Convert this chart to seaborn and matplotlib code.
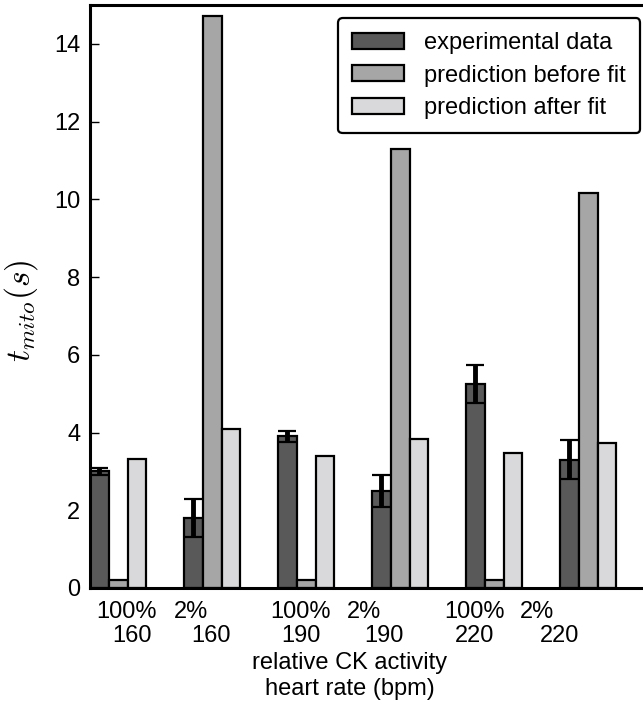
import numpy as np
import pandas as pd
import matplotlib
matplotlib.use("Agg")
import matplotlib.pyplot as plt
import seaborn as sns

# Conditions: relative CK activity and heart rate (bpm)
ck_activity = ["100%", "2%", "100%", "2%", "100%", "2%"]
heart_rate = ["160", "160", "190", "190", "220", "220"]

# Series
series = ["experimental data", "prediction before fit", "prediction after fit"]
experimental = [3.0, 1.8, 3.9, 2.5, 5.25, 3.3]
experimental_err = [0.08, 0.5, 0.15, 0.42, 0.5, 0.5]
before_fit = [0.2, 14.72, 0.2, 11.3, 0.2, 10.17]
after_fit = [3.31, 4.08, 3.39, 3.83, 3.47, 3.72]

yticks = [0, 2, 4, 6, 8, 10, 12, 14]

colors = ["#595959", "#a6a6a6", "#d9d9db"]

sns.set_theme(style="ticks")
plt.rcParams["font.family"] = ["Liberation Sans", "DejaVu Sans"]
plt.rcParams["mathtext.fontset"] = "cm"
plt.rcParams["text.color"] = "black"
plt.rcParams["axes.labelcolor"] = "black"
plt.rcParams["xtick.color"] = "black"
plt.rcParams["ytick.color"] = "black"

conditions = [f"{c}\n{h}" for c, h in zip(ck_activity, heart_rate)]
df = pd.DataFrame({
    "condition": conditions * 3,
    "series": np.repeat(series, len(conditions)),
    "value": experimental + before_fit + after_fit,
})

W, H = 643, 712
fig = plt.figure(figsize=(W / 100, H / 100), dpi=100)
ax = fig.add_axes([90 / W, 124 / H, 1 - 90 / W, 583 / H])

sns.barplot(data=df, x="condition", y="value", hue="series",
            order=conditions, hue_order=series, palette=colors,
            width=0.6, gap=0, saturation=1, edgecolor="black",
            linewidth=1.6, errorbar=None, ax=ax)

# error bars on the experimental bars
dark = ax.containers[0]
centers = [p.get_x() + p.get_width() / 2 for p in dark]
ax.errorbar(centers, experimental, yerr=experimental_err, fmt="none",
            ecolor="black", elinewidth=3.5, capsize=6.5, capthick=1.6,
            zorder=5)

ax.set_xlim(-0.3, -0.3 + 553 / 94)
ax.set_ylim(0, 15)
ax.set_yticks(yticks)
ax.tick_params(axis="y", direction="in", length=6.5, width=1.0,
               labelsize=17, pad=7, colors="black")

# two-row category labels: CK activity (minor ticks) above heart rate (major)
ax.xaxis.remove_overlapping_locs = False
idx = np.arange(len(conditions))
rate_off = np.array([0.15, -0.01, -0.06, -0.17, -0.21, -0.30])
pct_off = np.array([0.085, -0.23, -0.06, -0.39, -0.21, -0.54])
ax.set_xticks(idx + rate_off)
ax.set_xticklabels(heart_rate)
ax.set_xticks(idx + pct_off, minor=True)
ax.set_xticklabels(ck_activity, minor=True)
ax.tick_params(axis="x", which="minor", length=0, labelsize=17, pad=9,
               colors="black")
ax.tick_params(axis="x", which="major", length=0, labelsize=17, pad=27,
               colors="black")

ax.set_xlabel("relative CK activity\nheart rate (bpm)", fontsize=17)
ax.xaxis.set_label_coords(0.47, -0.11)
ax.set_ylabel(r"$t_{mito}(s)$", fontsize=24)
ax.yaxis.set_label_coords(-0.09, 0.475)

for side in ["left", "bottom", "top"]:
    ax.spines[side].set_linewidth(2.2)
    ax.spines[side].set_color("black")
ax.spines["right"].set_visible(False)

leg = ax.legend(loc="upper right", bbox_to_anchor=(0.995, 0.978),
                borderaxespad=0, fontsize=17, title=None, frameon=True,
                fancybox=True, framealpha=1, handlelength=2.2,
                handleheight=0.65, handletextpad=0.85, labelspacing=0.45,
                borderpad=0.6)
leg.get_frame().set_edgecolor("black")
leg.get_frame().set_linewidth(1.6)

fig.savefig("out.png", dpi=100)
